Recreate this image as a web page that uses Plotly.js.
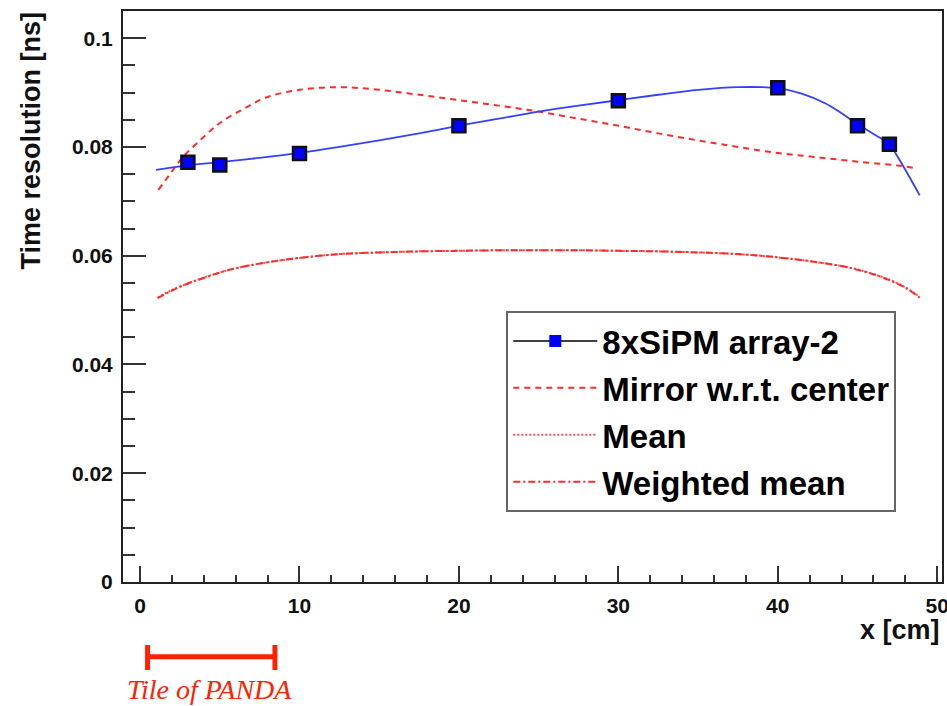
<!DOCTYPE html>
<html><head><meta charset="utf-8">
<script src="https://cdn.plot.ly/plotly-3.0.1.min.js"></script>
<style>html,body{margin:0;padding:0;background:#fff}#chart{width:947px;height:706px}</style>
</head><body><div id="chart"></div>
<script>
// Measured points (8xSiPM array-2)
const measX = [3, 5, 10, 20, 30, 40, 45, 47];
const measY = [0.0772, 0.0767, 0.0788, 0.0839, 0.0885, 0.0909, 0.0839, 0.0805];
const measErr = [0.0006, 0.0006, 0.0006, 0.0006, 0.0006, 0.0006, 0.0006, 0.0006];

// Fit curve through the measured points
const fitX = [1, 3, 5, 7.5, 10, 12.5, 15, 17.5, 20, 22.5, 25, 27.5, 30, 32.5, 35, 37.5, 40, 41.5, 43, 44, 45, 46, 47, 47.5, 48, 48.9];
const fitY = [0.0758, 0.0766, 0.0772, 0.0780, 0.0789, 0.0800, 0.0812, 0.0825, 0.0839, 0.0852, 0.0865, 0.0876, 0.0886, 0.0896, 0.0905, 0.0910, 0.0908, 0.0898, 0.0880, 0.0862, 0.0842, 0.0824, 0.0805, 0.0783, 0.0758, 0.0711];

// Mirror w.r.t. center
const mirrorX = [1.15, 2, 2.7, 3.5, 4.5, 5.2, 6.5, 7.9, 10, 12.5, 15, 17.5, 20, 22.5, 25, 27.5, 30, 32.5, 35, 37.5, 40, 42.5, 45, 47.5, 48.6];
const mirrorY = [0.0721, 0.0755, 0.0782, 0.0805, 0.0832, 0.0848, 0.0870, 0.0891, 0.0905, 0.0910, 0.0905, 0.0896, 0.0886, 0.0876, 0.0865, 0.0852, 0.0839, 0.0825, 0.0812, 0.0800, 0.0789, 0.0781, 0.0773, 0.0766, 0.0761];

// Mean
const meanX = [1.1, 2, 3, 4, 5, 6, 8, 10, 12.5, 15, 17.5, 20, 22.5, 25, 27.5, 30, 32.5, 35, 37.5, 40, 42, 44, 45, 46, 47, 48, 48.9];
const meanY = [0.0523, 0.0537, 0.0549, 0.0560, 0.0569, 0.0577, 0.0588, 0.0596, 0.0603, 0.0606, 0.0608, 0.0609, 0.0610, 0.0610, 0.0610, 0.0609, 0.0608, 0.0606, 0.0603, 0.0597, 0.0590, 0.0581, 0.0575, 0.0566, 0.0556, 0.0542, 0.0524];

// Weighted mean
const wmeanX = [1.1, 2, 3, 4, 5, 6, 8, 10, 12.5, 15, 17.5, 20, 22.5, 25, 27.5, 30, 32.5, 35, 37.5, 40, 42, 44, 45, 46, 47, 48, 48.9];
const wmeanY = [0.0522, 0.0536, 0.0549, 0.0559, 0.0569, 0.0577, 0.0588, 0.0596, 0.0603, 0.0606, 0.0608, 0.0609, 0.0610, 0.0610, 0.0610, 0.0609, 0.0608, 0.0606, 0.0603, 0.0597, 0.0590, 0.0581, 0.0574, 0.0566, 0.0555, 0.0541, 0.0523];

const seriesNames = ['8xSiPM array-2', 'Mirror w.r.t. center', 'Mean', 'Weighted mean'];
const tileRange = [0.47, 8.46];
const tileLabel = 'Tile of PANDA';

const red = '#ff2a2a';
const FONT = 'Liberation Sans, Arial, Helvetica, sans-serif';

const traces = [
  { x: [null], y: [null], name: seriesNames[0], legendgroup: 'g1', mode: 'lines+markers',
    line: { color: '#000', width: 1.5 }, marker: { symbol: 'square', size: 12, color: '#0000ff' } },
  { x: mirrorX, y: mirrorY, name: seriesNames[1], legendgroup: 'g2', mode: 'lines',
    line: { color: red, width: 2, dash: '6px,5px', shape: 'spline' } },
  { x: meanX, y: meanY, name: seriesNames[2], legendgroup: 'g3', mode: 'lines',
    line: { color: '#ff5050', width: 2, dash: '2px,2px', shape: 'spline' } },
  { x: wmeanX, y: wmeanY, name: seriesNames[3], legendgroup: 'g4', mode: 'lines',
    line: { color: red, width: 2, dash: '7px,3px,2px,3px', shape: 'spline' } },
  { x: fitX, y: fitY, showlegend: false, mode: 'lines', hoverinfo: 'skip',
    line: { color: '#3340ff', width: 1.8, shape: 'spline' } },
  { x: measX, y: measY, showlegend: false, mode: 'markers',
    error_y: { type: 'data', array: measErr, color: '#000', thickness: 1.5, width: 3 },
    marker: { symbol: 'square', size: 13, color: '#0000ff', line: { color: '#111', width: 2.5 } } }
];

const axisCommon = {
  showline: true, linecolor: '#222', linewidth: 2, mirror: true,
  showgrid: false, zeroline: false, ticks: 'inside', tickcolor: '#333', tickwidth: 2,
  tickfont: { family: FONT, size: 21, color: '#111', weight: 'bold' },
  ticklabelstandoff: 4, ticklabeloverflow: 'allow'
};

const layout = {
  width: 947, height: 706,
  margin: { l: 123, r: 5, t: 11, b: 124 },
  paper_bgcolor: '#fff', plot_bgcolor: '#fff',
  xaxis: Object.assign({}, axisCommon, {
    range: [-1.07, 50.3], tick0: 0, dtick: 10, ticklen: 16,
    minor: { ticks: 'inside', dtick: 2, ticklen: 7, tickcolor: '#333', tickwidth: 2, showgrid: false }
  }),
  yaxis: Object.assign({}, axisCommon, {
    range: [0, 0.105], tick0: 0, dtick: 0.02, ticklen: 23,
    minor: { ticks: 'inside', dtick: 0.005, ticklen: 12, tickcolor: '#333', tickwidth: 2, showgrid: false }
  }),
  showlegend: true,
  legend: {
    x: 0.468, y: 0.4746, xanchor: 'left', yanchor: 'top',
    bgcolor: '#fff', bordercolor: '#666', borderwidth: 2,
    font: { family: FONT, size: 33, color: '#000', weight: 'bold' },
    itemwidth: 84, traceorder: 'grouped', tracegroupgap: 1
  },
  annotations: [
    { text: 'Time resolution [ns]', xref: 'paper', yref: 'paper', x: -0.1117, y: 1.0017,
      xanchor: 'center', yanchor: 'top', textangle: -90, showarrow: false,
      font: { family: FONT, size: 27, color: '#111', weight: 'bold' } },
    { text: 'x [cm]', xref: 'paper', yref: 'paper', x: 1.0, y: -0.084,
      xanchor: 'right', yanchor: 'middle', showarrow: false,
      font: { family: FONT, size: 27, color: '#111', weight: 'bold' } },
    { text: tileLabel, xref: 'paper', yref: 'paper', x: 0.106, y: -0.1874,
      xanchor: 'center', yanchor: 'middle', showarrow: false,
      font: { family: 'Liberation Serif, Times New Roman, serif', size: 28, color: '#ff2200', style: 'italic' } }
  ],
  shapes: [
    { type: 'line', xref: 'x', yref: 'paper', x0: tileRange[0], x1: tileRange[1], y0: -0.1308, y1: -0.1308,
      line: { color: '#ff2200', width: 5 } },
    { type: 'line', xref: 'x', yref: 'paper', x0: tileRange[0], x1: tileRange[0], y0: -0.1103, y1: -0.1541,
      line: { color: '#ff2200', width: 5 } },
    { type: 'line', xref: 'x', yref: 'paper', x0: tileRange[1], x1: tileRange[1], y0: -0.1103, y1: -0.1541,
      line: { color: '#ff2200', width: 5 } }
  ]
};

Plotly.newPlot('chart', traces, layout, { displayModeBar: false, staticPlot: true });
</script>
</body></html>
